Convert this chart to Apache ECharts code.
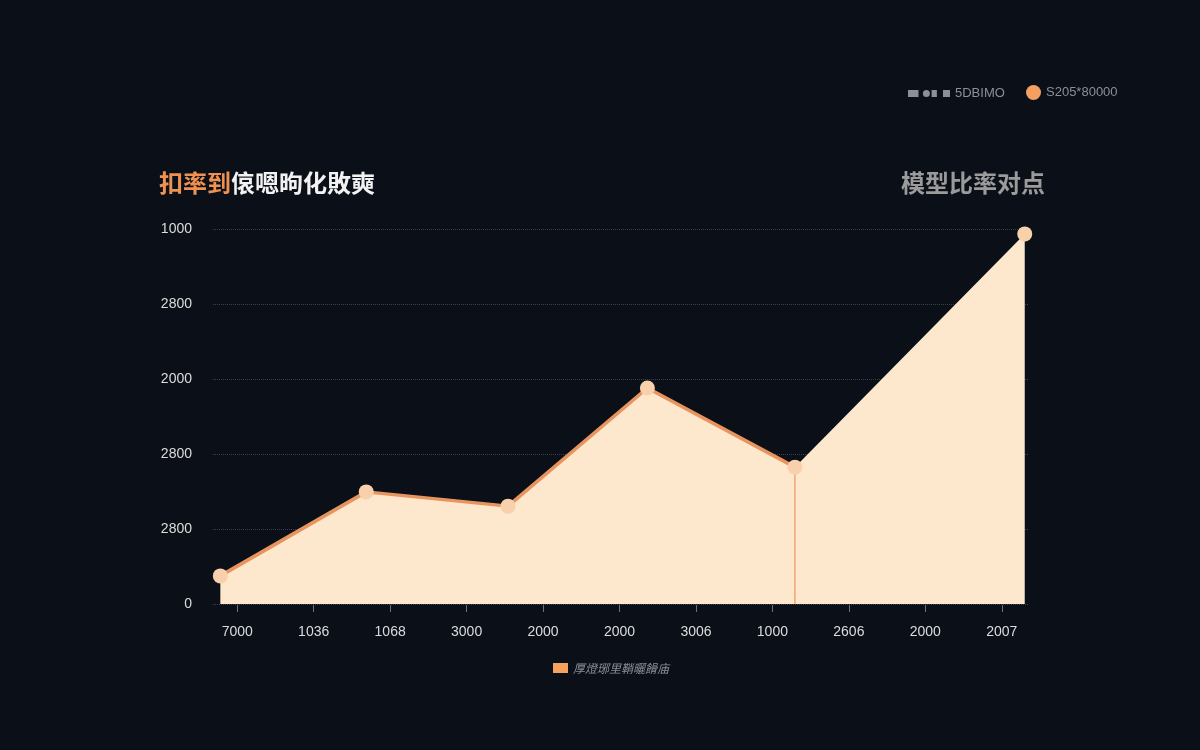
<!DOCTYPE html>
<html>
<head>
<meta charset="utf-8">
<script src="https://cdn.jsdelivr.net/npm/echarts@6/dist/echarts.min.js"></script>
<style>
html, body { margin: 0; padding: 0; background: #0a0f18; }
#chart { width: 1200px; height: 750px; }
</style>
</head>
<body>
<div id="chart"></div>
<script>
// x轴刻度文字
var xLabels = ['7000', '1036', '1068', '3000', '2000', '2000', '3006', '1000', '2606', '2000', '2007'];
// y轴刻度文字（从0往上）
var yLabels = ['0', '2800', '2800', '2000', '2800', '1000'];
// 数据点位置与数值
var pointX = [0.9, 18.8, 36.2, 53.3, 71.4, 99.6];
var pointY = [75, 299, 261, 576, 365, 987];
var lineCount = 5; // 折线只连到第5个点

var areaName = '厚燈琊里鞘曬餶庙';
var lineName = 'S205*80000';
var dropName = '5DBIMO';

var myChart = echarts.init(document.getElementById('chart'));

var areaData = pointX.map(function(x, i) { return [x, pointY[i]]; });
var lineData = areaData.slice(0, lineCount);
var dropData = [[pointX[lineCount - 1], 0], [pointX[lineCount - 1], pointY[lineCount - 1]]];

var font = '"Liberation Sans", "Noto Sans CJK SC", sans-serif';

var option = {
    backgroundColor: '#0a0f18',
    title: [
        {
            left: 154,
            top: 166,
            text: '{a|扣率到}{b|偯嗯昫化敗奭}',
            textStyle: {
                rich: {
                    a: { color: '#ef9150', fontSize: 24, fontWeight: 'bold', fontFamily: '"Noto Sans CJK SC"' },
                    b: { color: '#f2f2f2', fontSize: 24, fontWeight: 'bold', fontFamily: '"Noto Sans CJK SC"' }
                }
            }
        },
        {
            right: 150,
            top: 166,
            text: '模型比率对点',
            textStyle: { color: '#9b9b9b', fontSize: 24, fontWeight: 'bold', fontFamily: '"Noto Sans CJK SC"' }
        }
    ],
    legend: [
        {
            left: 903,
            top: 82,
            data: [{ name: dropName, icon: 'path://M0,1H12V9H0Z M17,5A4,4 0 1,1 25,5A4,4 0 1,1 17,5Z M27,1H33V9H27Z M40,1H48V9H40Z', itemStyle: { color: '#8c8f96' } }],
            itemWidth: 42,
            itemHeight: 10,
            textStyle: { color: '#8c8f96', fontSize: 13, fontFamily: font }
        },
        {
            left: 1021,
            top: 80,
            data: [{ name: lineName, icon: 'circle' }],
            itemWidth: 15,
            itemHeight: 15,
            textStyle: { color: '#8c8f96', fontSize: 13, fontFamily: font }
        },
        {
            left: 548,
            top: 657,
            data: [{ name: areaName, icon: 'rect', itemStyle: { color: '#f5a35c' } }],
            itemWidth: 15,
            itemHeight: 10,
            textStyle: { color: '#8c8f96', fontSize: 12, fontStyle: 'italic', fontFamily: '"Noto Sans CJK SC"' }
        }
    ],
    grid: [
        { left: 199, right: 160, top: 229, bottom: 145 },
        { left: 213, right: 172, top: 229, bottom: 146 }
    ],
    xAxis: [
        {
            type: 'category',
            gridIndex: 0,
            data: xLabels,
            boundaryGap: true,
            axisLine: { show: false },
            axisTick: { show: true, alignWithLabel: true, length: 7, lineStyle: { color: '#6b707a' } },
            axisLabel: { color: '#dcdcdc', fontSize: 14, margin: 20, fontFamily: font }
        },
        {
            type: 'value',
            gridIndex: 1,
            min: 0,
            max: 100,
            show: false
        }
    ],
    yAxis: [
        {
            type: 'value',
            gridIndex: 0,
            show: false,
            min: 0,
            max: 1000
        },
        {
            type: 'value',
            gridIndex: 1,
            min: 0,
            max: 1000,
            interval: 200,
            axisLine: { show: false },
            axisTick: { show: false },
            axisLabel: {
                color: '#dcdcdc',
                fontSize: 14,
                margin: 21,
                fontFamily: font,
                formatter: function(v) { return yLabels[Math.round(v / 200)]; }
            },
            splitLine: { lineStyle: { color: '#3a414c', type: 'dotted', width: 1 } }
        }
    ],
    series: [
        {
            name: areaName,
            type: 'line',
            xAxisIndex: 1,
            yAxisIndex: 1,
            data: areaData,
            showSymbol: false,
            color: '#f5a35c',
            lineStyle: { width: 0, opacity: 0 },
            areaStyle: { color: '#fde8cd', opacity: 1 },
            z: 2
        },
        {
            name: dropName,
            type: 'line',
            xAxisIndex: 1,
            yAxisIndex: 1,
            data: dropData,
            showSymbol: false,
            color: '#f0a676',
            lineStyle: { width: 1.5, color: '#f0a676' },
            z: 3
        },
        {
            name: lineName,
            type: 'line',
            xAxisIndex: 1,
            yAxisIndex: 1,
            data: lineData,
            showSymbol: false,
            color: '#f5a060',
            lineStyle: { width: 3.5, color: '#e8945f' },
            z: 4
        },
        {
            name: 'points',
            type: 'scatter',
            xAxisIndex: 1,
            yAxisIndex: 1,
            data: areaData,
            symbolSize: 15,
            itemStyle: { color: '#f8d0ab', opacity: 1 },
            z: 5
        }
    ]
};
myChart.setOption(option);
</script>
</body>
</html>
